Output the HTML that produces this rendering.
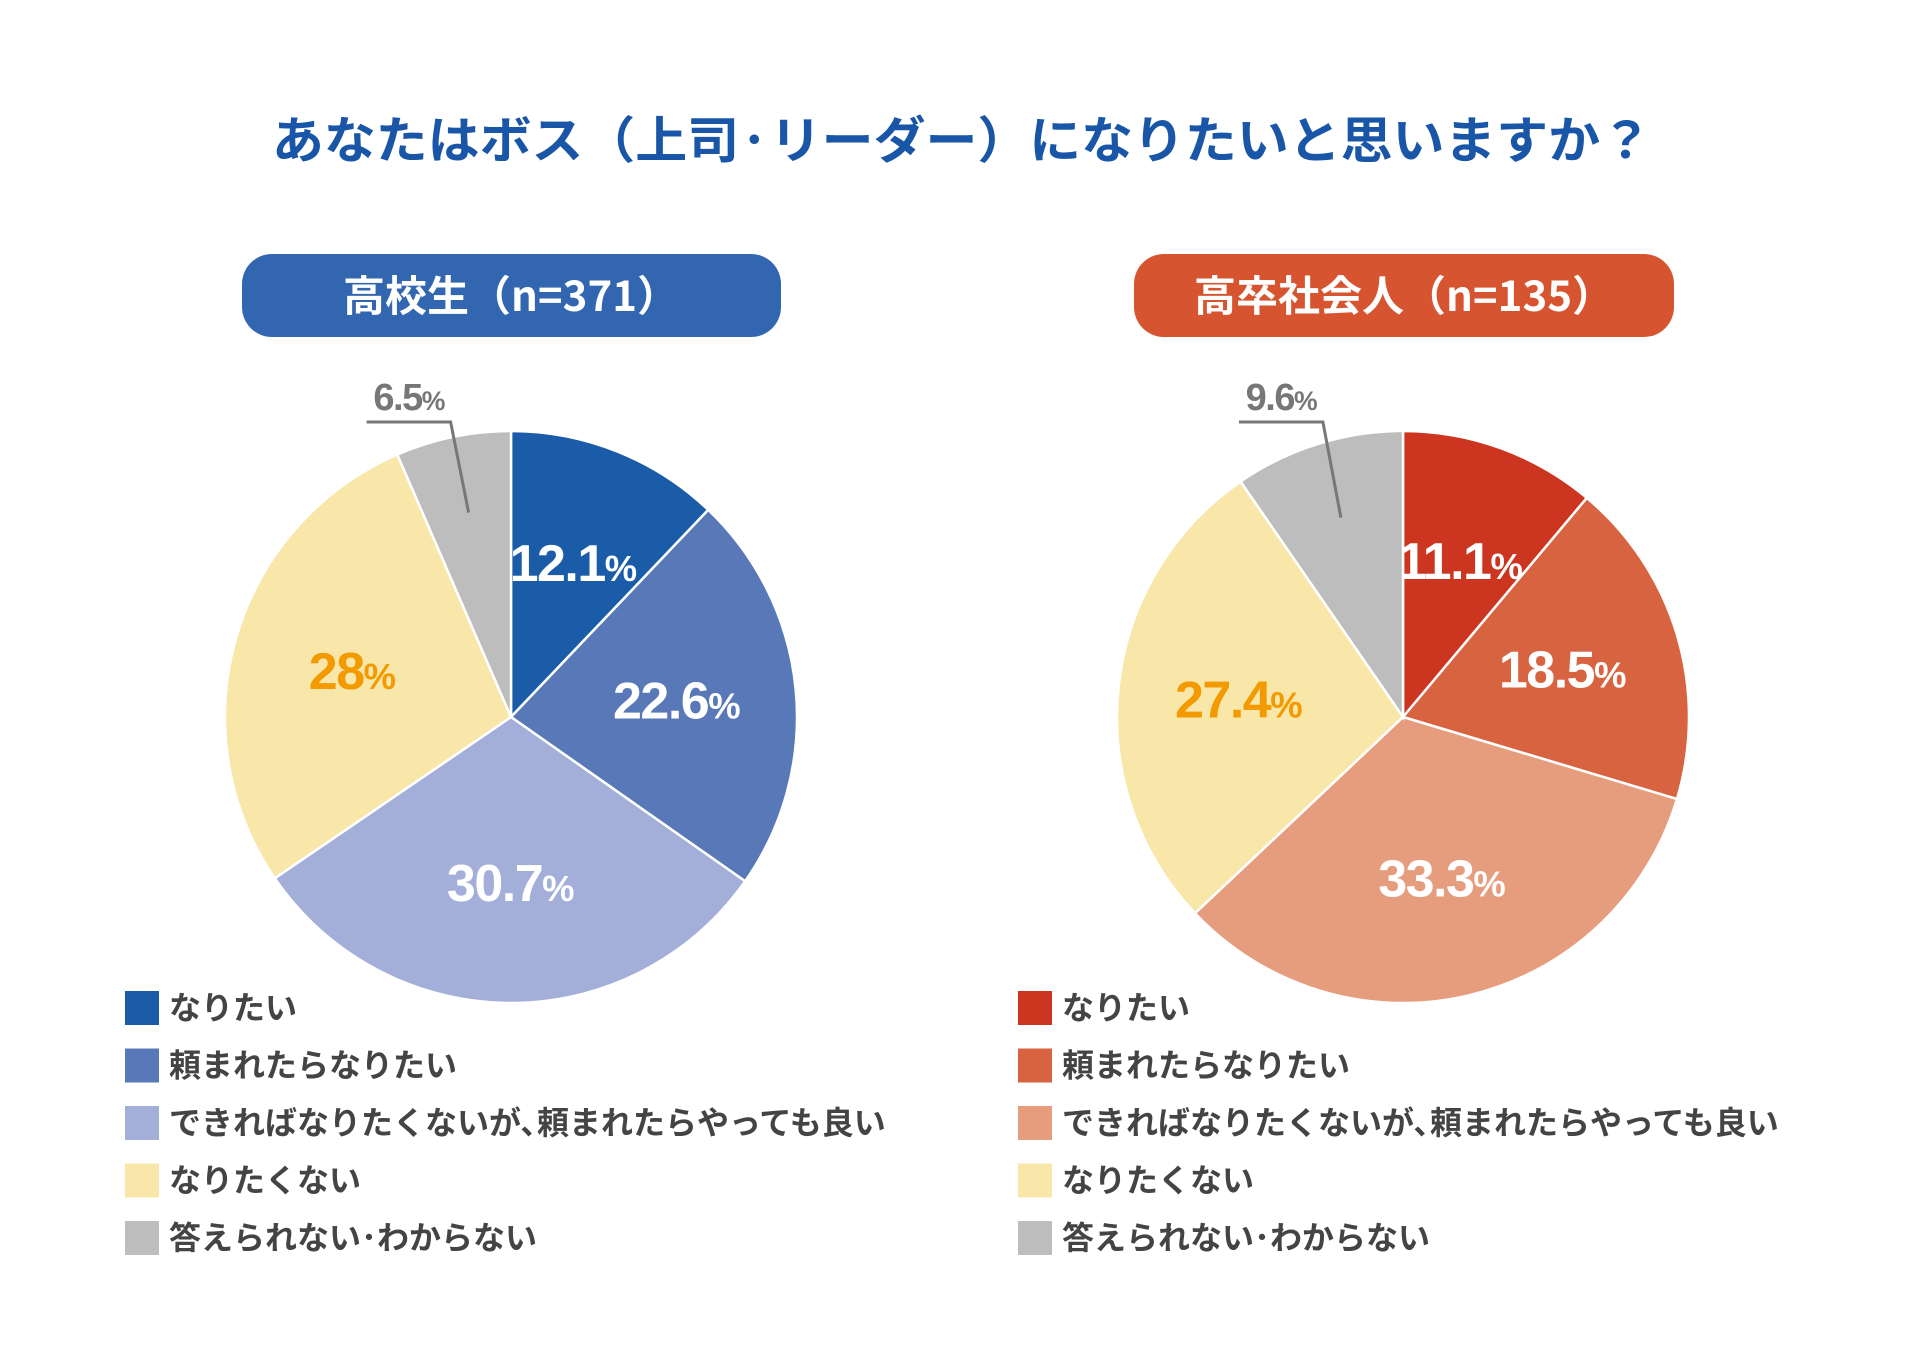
<!DOCTYPE html>
<html><head><meta charset="utf-8">
<style>
html,body{margin:0;padding:0;background:#fff;}
body{width:1913px;height:1350px;overflow:hidden;position:relative;font-family:"Liberation Sans","Noto Sans CJK JP",sans-serif;}
svg{position:absolute;left:0;top:0;}
</style></head>
<body>
<svg id="chart" width="1913" height="1350" viewBox="0 0 1913 1350">
  <text x="962" y="158" text-anchor="middle" font-size="50" font-weight="bold" fill="#1a56a8" font-family="'Noto Sans CJK JP',sans-serif" textLength="1380" lengthAdjust="spacingAndGlyphs">あなたはボス（上司·リーダー）になりたいと思いますか？</text>
  <rect x="242" y="254" width="539" height="83" rx="30" fill="#3366b0"/>
  <text x="511" y="311" text-anchor="middle" font-size="42" font-weight="bold" fill="#fff" font-family="'Noto Sans CJK JP',sans-serif">高校生（n=371）</text>
  <rect x="1134" y="254" width="540" height="83" rx="30" fill="#d65530"/>
  <text x="1404" y="311" text-anchor="middle" font-size="42" font-weight="bold" fill="#fff" font-family="'Noto Sans CJK JP',sans-serif">高卒社会人（n=135）</text>
  <g id="pies"></g>
</svg>
<script>
const categories = ["なりたい","頼まれたらなりたい","できればなりたくないが､頼まれたらやっても良い","なりたくない","答えられない･わからない"];
const leftValues = [12.1, 22.6, 30.7, 28, 6.5];
const rightValues = [11.1, 18.5, 33.3, 27.4, 9.6];
const leftColors = ["#1a5ca8","#5878b8","#a3afd9","#f9e6a9","#bdbdbd"];
const rightColors = ["#cc351f","#d86340","#e69d7d","#f9e6a9","#bdbdbd"];
const labelColors = ["#fff","#fff","#fff","#f29a00","#777"];

const NS = "http://www.w3.org/2000/svg";
const g = document.getElementById("pies");
function pt(cx, cy, r, frac){ const a = frac*2*Math.PI; return [cx + r*Math.sin(a), cy - r*Math.cos(a)]; }
function fmt(v){ return String(v); }

function drawPie(prefix, cx, cy, r, values, colors, legendX){
  const total = values.reduce((a,b)=>a+b,0);
  let cum = 0;
  values.forEach((v,i)=>{
    const f0 = cum/total, f1 = (cum+v)/total; cum += v;
    const p0 = pt(cx,cy,r,f0), p1 = pt(cx,cy,r,f1);
    const large = (f1-f0) > 0.5 ? 1 : 0;
    const path = document.createElementNS(NS,"path");
    path.setAttribute("d",`M${cx},${cy} L${p0[0]},${p0[1]} A${r},${r} 0 ${large} 1 ${p1[0]},${p1[1]} Z`);
    path.setAttribute("fill",colors[i]);
    path.setAttribute("stroke","#fff");
    path.setAttribute("stroke-width","2.5");
    
    
    g.appendChild(path);
    const mid = (f0+f1)/2;
    const t = document.createElementNS(NS,"text");
    let lx, ly;
    if (i === values.length-1) {
      const inner = pt(cx,cy,r*0.73,mid);
      const elbow = [inner[0]-18, cy - r - 9];
      const line = document.createElementNS(NS,"polyline");
      line.setAttribute("points",`${inner[0]},${inner[1]} ${elbow[0]},${elbow[1]} ${elbow[0]-84},${elbow[1]}`);
      line.setAttribute("fill","none");
      line.setAttribute("stroke","#777");
      line.setAttribute("stroke-width","3");
      
      
      g.appendChild(line);
      lx = elbow[0]-42; ly = elbow[1]-12;
      t.setAttribute("font-size","38");
    } else {
      const p = pt(cx,cy,r*0.58,mid);
      lx = p[0]; ly = p[1]+18;
      t.setAttribute("font-size","52");
    }
    t.setAttribute("x",lx); t.setAttribute("y",ly);
    t.setAttribute("text-anchor","middle");
    t.setAttribute("font-weight","bold");
    t.setAttribute("fill",labelColors[i]);
    t.setAttribute("font-family","'Liberation Sans Narrow','Liberation Sans',sans-serif");
    t.setAttribute("letter-spacing","-1.5");
    t.innerHTML = fmt(v) + '<tspan font-size="0.7em">%</tspan>';
    
    
    g.appendChild(t);

    const rowY = 1008 + i*57.5;
    const sq = document.createElementNS(NS,"rect");
    sq.setAttribute("x",legendX); sq.setAttribute("y",rowY-17);
    sq.setAttribute("width",34); sq.setAttribute("height",34);
    sq.setAttribute("fill",colors[i]);
    
    
    g.appendChild(sq);
    const lt = document.createElementNS(NS,"text");
    lt.setAttribute("x",legendX+44); lt.setAttribute("y",rowY+11);
    lt.setAttribute("font-size","32"); lt.setAttribute("font-weight","bold");
    lt.setAttribute("fill","#444");
    lt.setAttribute("font-family","'Noto Sans CJK JP',sans-serif");
    lt.textContent = categories[i];
    
    
    g.appendChild(lt);
  });
}
drawPie("high-school", 511, 717, 286, leftValues, leftColors, 125);
drawPie("graduate-worker", 1403, 717, 286, rightValues, rightColors, 1018);
</script>
</body></html>
